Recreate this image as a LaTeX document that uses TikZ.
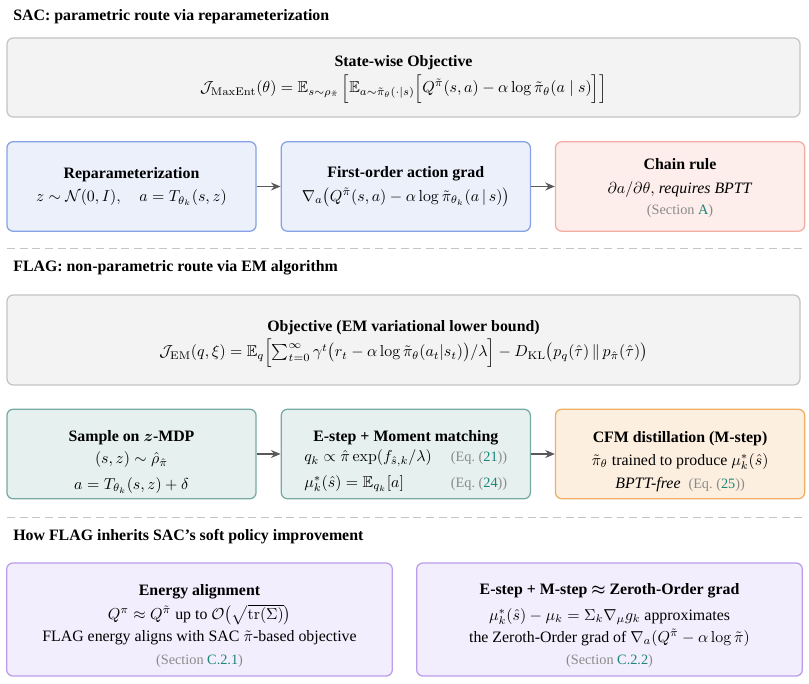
\documentclass[tikz,border=0pt]{standalone}
\usepackage{amsmath,amssymb}
\usepackage[no-math]{fontspec}
\setmainfont{Liberation Serif}
\usetikzlibrary{arrows.meta,positioning}

\definecolor{boxgray}{HTML}{F3F3F3}
\definecolor{linegray}{HTML}{C4C4C4}
\definecolor{boxblue}{HTML}{EBF0FB}
\definecolor{lineblue}{HTML}{86A2E6}
\definecolor{boxred}{HTML}{FDEEEC}
\definecolor{linered}{HTML}{F2ACA4}
\definecolor{boxteal}{HTML}{E6F0EF}
\definecolor{lineteal}{HTML}{77AAA4}
\definecolor{boxorange}{HTML}{FDEFE0}
\definecolor{lineorange}{HTML}{F0AE62}
\definecolor{boxpurple}{HTML}{F3EEFD}
\definecolor{linepurple}{HTML}{BC9DEB}
\definecolor{refgray}{HTML}{8A8A8A}
\definecolor{refteal}{HTML}{1C8478}
\newcommand{\secref}[1]{{\small\color{refgray}(Section \textcolor{refteal}{#1})}}
\newcommand{\eqnref}[1]{{\small\color{refgray}(Eq.~(\textcolor{refteal}{#1}))}}
\newcommand{\lift}[1]{\rule{0pt}{#1}}

\begin{document}
\begin{tikzpicture}[
    x=0.63pt, y=-0.63pt,
    node distance=15pt and 15pt,
    panel/.style={draw, line width=0.8pt, rounded corners=4pt,
                  inner sep=0pt, align=center, font=\normalsize},
    wide/.style={panel, fill=boxgray, draw=linegray, minimum width=499.6pt},
    cell/.style={panel, minimum width=157pt, minimum height=56.4pt},
    half/.style={panel, fill=boxpurple, draw=linepurple,
                 minimum width=243pt, minimum height=71.2pt},
    headline/.style={anchor=west, font=\bfseries, inner sep=0pt},
    divider/.style={draw=linegray, line width=0.6pt, dash pattern=on 5pt off 3pt},
    arr/.style={-{Stealth[length=6pt,width=5pt]}, draw=black!65, line width=0.8pt}
]
\useasboundingbox (0,0) rectangle (809,684);

% SAC route
\node[headline] (h1) at (13,17) {SAC: parametric route via reparameterization};
\node[wide, minimum height=49.8pt] (obj1) at (403.5,77.5)
  {\lift{9pt}\textbf{State-wise Objective}\\[2pt]
   $\mathcal{J}_{\mathrm{MaxEnt}}(\theta)=\mathbb{E}_{s\sim\rho_{\tilde\pi}}\,
   \Bigl[\mathbb{E}_{a\sim\tilde\pi_\theta(\cdot|s)}
   \Bigl[Q^{\tilde\pi}(s,a)-\alpha\log\tilde\pi_\theta(a\mid s)\Bigr]\Bigr]$};
\node[cell, fill=boxblue, draw=lineblue] (rep) at (131.5,186.5)
  {\textbf{Reparameterization}\\[3pt]
   $z\sim\mathcal{N}(0,I),\quad a=T_{\theta_k}(s,z)$};
\node[cell, fill=boxblue, draw=lineblue, right=of rep] (grad)
  {\textbf{First-order action grad}\\[3pt]
   $\nabla_a\bigl(Q^{\tilde\pi}(s,a)-\alpha\log\tilde\pi_{\theta_k}(a\,|\,s)\bigr)$};
\node[cell, fill=boxred, draw=linered, right=of grad] (chain)
  {\lift{9pt}\textbf{Chain rule}\\[3pt]
   $\partial a/\partial\theta,$ \textit{requires BPTT}\\[1pt]
   \secref{A}};

\draw[arr] (rep) -- (grad);
\draw[arr] (grad) -- (chain);

\path[divider] (7,248) -- (802,248);

% FLAG route
\node[headline] (h2) at (13,268) {FLAG: non-parametric route via EM algorithm};
\node[wide, minimum height=56.7pt] (obj2) at (403.5,340)
  {\lift{12pt}\textbf{Objective (EM variational lower bound)}\\[1pt]
   $\mathcal{J}_{\mathrm{EM}}(q,\xi)=\mathbb{E}_q\Bigl[\textstyle\sum_{t=0}^{\infty}\gamma^t
   \bigl(r_t-\alpha\log\tilde\pi_\theta(a_t|s_t)\bigr)/\lambda\Bigr]
   -D_{\mathrm{KL}}\bigl(p_q(\hat\tau)\,\|\,p_{\hat\pi}(\hat\tau)\bigr)$};
\node[cell, fill=boxteal, draw=lineteal] (samp) at (131.5,454)
  {\lift{17pt}\textbf{Sample on $\boldsymbol{z}$-MDP}\\[2pt]
   $(s,z)\sim\hat\rho_{\hat\pi}$\\[4pt]
   $a=T_{\theta_k}(s,z)+\delta$};
\node[cell, fill=boxteal, draw=lineteal, right=of samp] (estep)
  {\lift{17pt}\textbf{E-step + Moment matching}\\[1pt]
   \begin{tabular}{@{}l@{\hspace{12pt}}l@{}}
   $q_k\propto\hat\pi\exp(f_{\hat s,k}/\lambda)$ & \eqnref{21}\\[4pt]
   $\mu^*_k(\hat s)=\mathbb{E}_{q_k}[a]$ & \eqnref{24}
   \end{tabular}};
\node[cell, fill=boxorange, draw=lineorange, right=of estep] (cfm)
  {\lift{17pt}\textbf{CFM distillation (M-step)}\\[2pt]
   $\tilde\pi_\theta$ trained to produce $\mu^*_k(\hat s)$\\[3pt]
   \textit{BPTT-free}\ \ \eqnref{25}};

\draw[arr] (samp) -- (estep);
\draw[arr] (estep) -- (cfm);

\path[divider] (7,517) -- (802,517);

% link between the two
\node[headline] (h3) at (13,537) {How FLAG inherits SAC's soft policy improvement};
\node[half] (align) at (199.5,619.5)
  {\lift{15pt}\textbf{Energy alignment}\\[3pt]
   $Q^{\pi}\approx Q^{\tilde\pi}$ up to $\mathcal{O}\bigl(\sqrt{\mathrm{tr}(\Sigma)}\bigr)$\\[2pt]
   FLAG energy aligns with SAC $\tilde\pi$-based objective\\[2pt]
   \secref{C.2.1}};
\node[half, right=14.5pt of align] (zeroth)
  {\lift{15pt}\textbf{E-step + M-step $\boldsymbol{\approx}$ Zeroth-Order grad}\\[4pt]
   $\mu^*_k(\hat s)-\mu_k=\Sigma_k\nabla_\mu g_k$ approximates\\[2pt]
   the Zeroth-Order grad of $\nabla_a(Q^{\tilde\pi}-\alpha\log\tilde\pi)$\\[2pt]
   \secref{C.2.2}};
\end{tikzpicture}
\end{document}
